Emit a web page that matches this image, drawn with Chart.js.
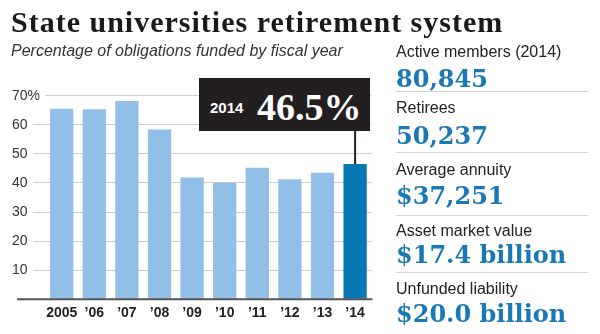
<!DOCTYPE html>
<html>
<head>
<meta charset="utf-8">
<script src="https://cdn.jsdelivr.net/npm/chart.js@4"></script>
<style>
  html, body { margin:0; padding:0; background:#fff; }
  #wrap { position:relative; width:600px; height:334px; overflow:hidden; }
  canvas { position:absolute; left:0; top:0; }
  .t { position:absolute; white-space:nowrap; line-height:1; }
  #title { left:11px; top:5.4px; font:bold 30px "Liberation Serif", "Times New Roman", serif; letter-spacing:1px; color:#1a1a1a; }
  #sub { left:11px; top:41.5px; font:italic 16px "Liberation Sans", Arial, sans-serif; color:#333; }
  .lab { left:396px; font:16px "Liberation Sans", Arial, sans-serif; color:#222; }
  .num { left:396px; font:bold 24px "DejaVu Serif", serif; color:#1a78b4; }
  .sep { position:absolute; left:396px; width:192px; height:0; border-top:1.5px solid #d2d2d2; }
  #box { position:absolute; left:199px; top:78px; width:171px; height:53px; background:#231f20; }
  #boxYear { position:absolute; left:11px; top:22px; font:bold 15px "Liberation Sans", Arial, sans-serif; color:#fff; line-height:1; }
  #boxVal { position:absolute; left:58px; top:10px; font:bold 38px "Liberation Serif", serif; color:#fff; line-height:1; }
</style>
</head>
<body>
<div id="wrap">
  <canvas id="c" width="600" height="334"></canvas>
  <div class="t" id="title">State universities retirement system</div>
  <div class="t" id="sub">Percentage of obligations funded by fiscal year</div>
  <div id="box"><div id="boxYear"></div><div id="boxVal"></div></div>
  <div id="panel"></div>
</div>
<script>
const categories = ['2005', '\u201906', '\u201907', '\u201908', '\u201909', '\u201910', '\u201911', '\u201912', '\u201913', '\u201914'];
const values = [65.5, 65.3, 68.2, 58.4, 41.9, 40.1, 45.2, 41.3, 43.5, 46.5];
const highlightYear = '2014';
const yTicks = [0, 10, 20, 30, 40, 50, 60, 70];
const statLabels = ['Active members (2014)', 'Retirees', 'Average annuity', 'Asset market value', 'Unfunded liability'];
const statValues = ['80,845', '50,237', '$37,251', '$17.4 billion', '$20.0 billion'];

// right panel
const labTops = [42.5, 99.2, 160.5, 221.5, 279.8];
const numTops = [63.7, 121.4, 181.4, 240.4, 298.7];
const sepTops = [91, 152, 215, 272];
const panel = document.getElementById('panel');
statLabels.forEach((s, i) => {
  const l = document.createElement('div'); l.className = 't lab'; l.style.top = labTops[i] + 'px'; l.textContent = s; panel.appendChild(l);
  const n = document.createElement('div'); n.className = 't num'; n.style.top = numTops[i] + 'px'; n.textContent = statValues[i]; panel.appendChild(n);
  if (i < sepTops.length) { const d = document.createElement('div'); d.className = 'sep'; d.style.top = sepTops[i] + 'px'; panel.appendChild(d); }
});
document.getElementById('boxYear').textContent = highlightYear;
document.getElementById('boxVal').textContent = values[values.length - 1].toFixed(1) + '%';

const extras = {
  id: 'extras',
  afterDatasetsDraw(chart) {
    const { ctx, scales: { x, y }, chartArea } = chart;
    ctx.save();
    const y0 = y.getPixelForValue(0);
    ctx.strokeStyle = '#555'; ctx.lineWidth = 2;
    ctx.beginPath(); ctx.moveTo(17, y0); ctx.lineTo(chartArea.right + 1, y0); ctx.stroke();
    const i = values.length - 1;
    const bx = x.getPixelForValue(i);
    const by = y.getPixelForValue(values[i]);
    ctx.strokeStyle = '#231f20'; ctx.lineWidth = 2;
    ctx.beginPath(); ctx.moveTo(bx, 131); ctx.lineTo(bx, by); ctx.stroke();
    ctx.restore();
  }
};

new Chart(document.getElementById('c'), {
  type: 'bar',
  data: {
    labels: categories,
    datasets: [{
      data: values,
      backgroundColor: values.map((v, i) => i === values.length - 1 ? '#0a77b5' : '#92bfe7'),
      borderWidth: 0,
      categoryPercentage: 1,
      barPercentage: 0.715
    }]
  },
  options: {
    responsive: false,
    animation: false,
    layout: { padding: { left: 12, right: 228.6, top: 95.7, bottom: 14.7 } },
    plugins: { legend: { display: false }, tooltip: { enabled: false } },
    scales: {
      x: {
        grid: { display: false, drawTicks: false },
        border: { display: false },
        ticks: { padding: 5, autoSkip: false, maxRotation: 0, minRotation: 0, color: '#222', font: { family: '"Liberation Sans", Arial, sans-serif', size: 14, weight: 'bold' } },
        afterFit: (s) => { s.height = 20; }
      },
      y: {
        min: 0, max: 70,
        afterBuildTicks: (s) => { s.ticks = yTicks.map(v => ({ value: v })); },
        border: { display: false },
        grid: {
          color: (c) => c.tick && c.tick.value === 0 ? 'rgba(0,0,0,0)' : '#cfcfcf',
          tickColor: (c) => c.tick && (c.tick.value === 0 || c.tick.value === 70) ? 'rgba(0,0,0,0)' : '#cfcfcf',
          tickLength: 12,
          lineWidth: 1
        },
        ticks: {
          crossAlign: 'far',
          padding: 0,
          color: '#333',
          font: { family: '"Liberation Sans", Arial, sans-serif', size: 14 },
          callback: (v) => v === 0 ? '' : (v === 70 ? v + '%' : String(v))
        },
        afterFit: (s) => { s.width = 33.4; }
      }
    }
  },
  plugins: [extras]
});
</script>
</body>
</html>
